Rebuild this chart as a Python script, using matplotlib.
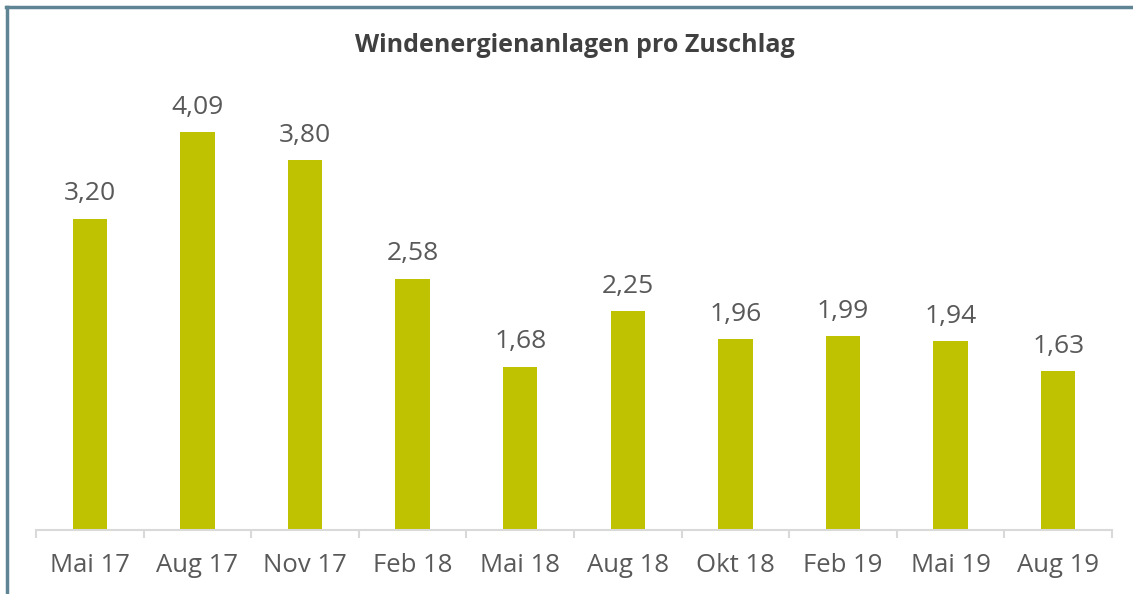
import matplotlib.pyplot as plt
from matplotlib.lines import Line2D

plt.rcParams['font.family'] = ['Open Sans', 'DejaVu Sans']

categories = ['Mai 17', 'Aug 17', 'Nov 17', 'Feb 18', 'Mai 18',
              'Aug 18', 'Okt 18', 'Feb 19', 'Mai 19', 'Aug 19']
values = [3.20, 4.09, 3.80, 2.58, 1.68, 2.25, 1.96, 1.99, 1.94, 1.63]

BAR_COLOR = '#bfc200'
TEXT_COLOR = '#595959'
AXIS_COLOR = '#d9d9d9'
FRAME_COLOR = '#5f8494'

fig = plt.figure(figsize=(11.33, 5.94), dpi=100)
ax = fig.add_axes([0.0318, 0.1077, 0.9497, 0.7913])

x = range(len(categories))
bars = ax.bar(x, values, width=0.32, color=BAR_COLOR)

for xi, v in zip(x, values):
    ax.annotate(('%.2f' % v).replace('.', ','), (xi, v), xytext=(0, 9),
                textcoords='offset points', ha='center', va='bottom',
                fontsize=19, color=TEXT_COLOR)

ax.set_xlim(-0.5, len(categories) - 0.5)
ax.set_ylim(0, 4.83)
ax.set_xticks(list(x))
ax.set_xticklabels(categories, fontsize=18.5, color=TEXT_COLOR)
ax.set_xticks([i - 0.5 for i in range(len(categories) + 1)], minor=True)
ax.tick_params(axis='x', which='major', length=0, pad=16.5)
ax.tick_params(axis='x', which='minor', length=6, width=1.5, color=AXIS_COLOR, direction='out')
ax.set_yticks([])
for side in ['top', 'right', 'left']:
    ax.spines[side].set_visible(False)
ax.spines['bottom'].set_color(AXIS_COLOR)
ax.spines['bottom'].set_linewidth(1.5)

fig.text(0.507, 0.923, 'Windenergienanlagen pro Zuschlag', ha='center', va='center',
         fontsize=18, fontweight='bold', color='#404040')

# frame lines (left and top) of the original box
fig.add_artist(Line2D([0.0062, 0.0062], [0.0, 0.9875], transform=fig.transFigure,
                      color=FRAME_COLOR, lw=2.5))
fig.add_artist(Line2D([0.0051, 1.0], [0.9875, 0.9875], transform=fig.transFigure,
                      color=FRAME_COLOR, lw=2.5))

fig.savefig('out.png', dpi=100)
